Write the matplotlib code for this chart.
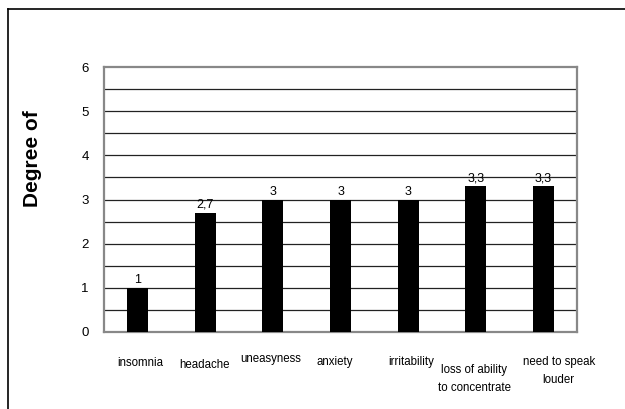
import matplotlib
matplotlib.use('Agg')
import matplotlib.pyplot as plt
from matplotlib.lines import Line2D

# symptom categories and mean scores
symptoms = ['insomnia', 'headache', 'uneasyness', 'anxiety', 'irritability',
            'loss of ability\nto concentrate', 'need to speak\nlouder']
degree = [1.0, 2.7, 3.0, 3.0, 3.0, 3.3, 3.3]
value_labels = ['1', '2,7', '3', '3', '3', '3,3', '3,3']
y_ticks = [0, 1, 2, 3, 4, 5, 6]

plt.rcParams['font.family'] = ['Liberation Sans', 'DejaVu Sans']

fig = plt.figure(figsize=(6.25, 4.09), dpi=100)
W, H = 625, 409
ax = fig.add_axes([104 / W, 1 - 332 / H, (577 - 104) / W, (332 - 67) / H])

x = list(range(len(symptoms)))
ax.bar(x, degree, width=0.31, color='black', zorder=3)

for xi, v, lab in zip(x, degree, value_labels):
    ax.text(xi, v + 0.04, lab, ha='center', va='bottom', fontsize=9, zorder=4)

# horizontal gridlines every half unit
for g in [i * 0.5 for i in range(1, 12)]:
    ax.axhline(g, color='#222222', linewidth=0.9, zorder=1)

ax.set_xlim(-0.5, len(symptoms) - 0.5)
ax.set_ylim(0, 6)
ax.set_yticks(y_ticks)
ax.set_yticklabels([str(t) for t in y_ticks], fontsize=9.5)
ax.tick_params(axis='y', length=0, pad=11)
ax.set_xticks([])
for s in ax.spines.values():
    s.set_color('#888888')
    s.set_linewidth(1.6)

# category labels below the axis, staggered a little
label_dx = [0.03, -0.02, -0.04, -0.08, 0.05, -0.02, 0.23]
label_dy = [-0.57, -0.61, -0.48, -0.54, -0.54, -0.72, -0.54]
for xi, name, dx, dy in zip(x, symptoms, label_dx, label_dy):
    ax.text(xi + dx, dy, name, ha='center', va='top', fontsize=8.3,
            linespacing=1.7, clip_on=False)

fig.text(33 / W, 1 - 159 / H, 'Degree of', rotation=90, ha='center', va='center',
         fontsize=15, fontweight='bold')

# outer sheet border (left and top edges)
fig.add_artist(Line2D([7.5 / W, 7.5 / W], [0, 1 - 9 / H], color='black', linewidth=1.2))
fig.add_artist(Line2D([7.5 / W, 1], [1 - 9 / H, 1 - 9 / H], color='black', linewidth=1.2))

fig.savefig('out.png', dpi=100, facecolor='white')
